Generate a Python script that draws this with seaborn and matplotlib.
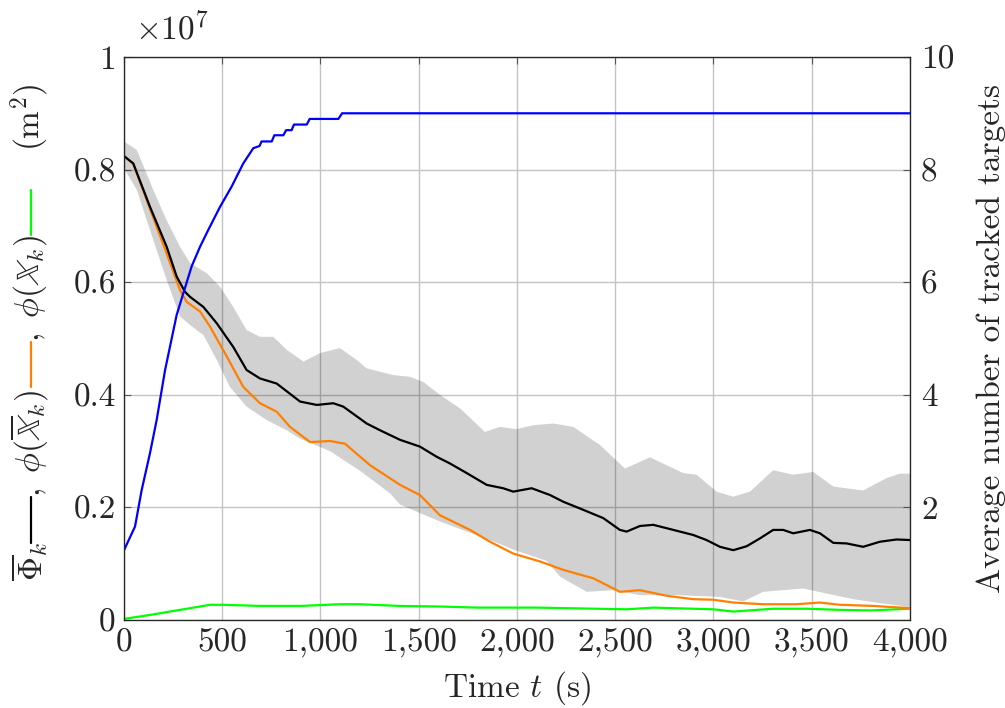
import numpy as np
import matplotlib
matplotlib.use("Agg")
import matplotlib.pyplot as plt
import seaborn as sns
from matplotlib.lines import Line2D

# values of the area curves are in units of 1e7 m^2
t_mean = [0, 47, 132, 217, 268, 310, 336, 404, 472, 556, 624, 692, 777, 896, 981, 1065, 1116, 1235, 1303, 1405,
          1506, 1591, 1659, 1744, 1846, 1930, 1981, 2075, 2168, 2236, 2321, 2439, 2524, 2558, 2626, 2694, 2796, 2897,
          2965, 3033, 3101, 3169, 3237, 3304, 3355, 3406, 3491, 3542, 3610, 3678, 3762, 3847, 3932, 4000]
v_mean = [0.824, 0.811, 0.734, 0.663, 0.61, 0.583, 0.574, 0.556, 0.527, 0.485, 0.444, 0.429, 0.42, 0.388, 0.382,
          0.385, 0.379, 0.349, 0.337, 0.32, 0.308, 0.29, 0.278, 0.261, 0.24, 0.234, 0.228, 0.234, 0.222, 0.21, 0.198,
          0.181, 0.16, 0.157, 0.167, 0.169, 0.16, 0.151, 0.142, 0.13, 0.124, 0.131, 0.145, 0.16, 0.16, 0.154, 0.16,
          0.154, 0.137, 0.136, 0.13, 0.139, 0.143, 0.142]

t_up = [0, 65, 149, 217, 285, 336, 421, 489, 556, 624, 692, 760, 828, 913, 997, 1099, 1184, 1235, 1371, 1455,
        1523, 1608, 1710, 1837, 1913, 1998, 2083, 2185, 2287, 2422, 2550, 2677, 2846, 2914, 3016, 3101, 3186, 3304,
        3406, 3508, 3610, 3762, 3881, 3949, 4000]
v_up = [0.85, 0.835, 0.764, 0.71, 0.663, 0.634, 0.616, 0.592, 0.556, 0.515, 0.503, 0.503, 0.48, 0.459, 0.474, 0.483,
        0.462, 0.447, 0.435, 0.432, 0.423, 0.40, 0.376, 0.334, 0.343, 0.339, 0.346, 0.349, 0.343, 0.311, 0.269, 0.289,
        0.261, 0.258, 0.228, 0.219, 0.228, 0.266, 0.258, 0.263, 0.237, 0.23, 0.252, 0.26, 0.26]

t_lo = [0, 65, 149, 217, 285, 336, 404, 472, 539, 624, 726, 828, 896, 1048, 1201, 1354, 1405, 1506, 1608, 1761,
        1913, 1981, 2151, 2219, 2355, 2490, 2626, 2829, 3033, 3152, 3253, 3457, 3576, 3712, 3847, 4000]
v_lo = [0.802, 0.764, 0.675, 0.604, 0.539, 0.524, 0.506, 0.462, 0.414, 0.379, 0.355, 0.337, 0.322, 0.30, 0.265,
        0.225, 0.205, 0.19, 0.175, 0.155, 0.135, 0.125, 0.105, 0.077, 0.05, 0.053, 0.044, 0.044, 0.041, 0.033, 0.05,
        0.056, 0.047, 0.037, 0.03, 0.023]

t_best = [0, 47, 217, 285, 319, 387, 438, 523, 607, 692, 777, 845, 947, 1048, 1125, 1252, 1405, 1506, 1608, 1761,
          1863, 1981, 2117, 2236, 2389, 2524, 2626, 2762, 2897, 2999, 3101, 3253, 3423, 3542, 3644, 3813, 4000]
v_best = [0.824, 0.81, 0.651, 0.586, 0.565, 0.548, 0.521, 0.468, 0.414, 0.385, 0.37, 0.343, 0.316, 0.318, 0.313,
          0.275, 0.24, 0.222, 0.186, 0.16, 0.139, 0.118, 0.104, 0.089, 0.074, 0.05, 0.053, 0.043, 0.037, 0.036, 0.031,
          0.028, 0.028, 0.031, 0.027, 0.025, 0.021]

t_now = [0, 132, 268, 438, 505, 692, 900, 1100, 1200, 1400, 1600, 1800, 2100, 2558, 2694, 2999, 3101, 3304, 3474,
         3644, 3800, 4000]
v_now = [0.002, 0.009, 0.017, 0.027, 0.027, 0.025, 0.025, 0.028, 0.028, 0.025, 0.024, 0.022, 0.022, 0.019, 0.022,
         0.019, 0.015, 0.02, 0.02, 0.018, 0.017, 0.02]

t_targets = [0, 56, 90, 132, 166, 209, 268, 344, 387, 429, 489, 548, 607, 658, 690, 700, 752, 765, 811, 825, 853,
             865, 930, 945, 1091, 1110, 4000]
v_targets = [1.24, 1.66, 2.31, 2.96, 3.55, 4.44, 5.42, 6.28, 6.63, 6.93, 7.34, 7.70, 8.11, 8.38, 8.42, 8.50, 8.50,
             8.61, 8.61, 8.70, 8.70, 8.80, 8.80, 8.90, 8.90, 9.0, 9.0]

x_ticks = [0, 500, 1000, 1500, 2000, 2500, 3000, 3500, 4000]
x_labels = ["0", "500", "1,000", "1,500", "2,000", "2,500", "3,000", "3,500", "4,000"]
y_ticks = [0, 0.2, 0.4, 0.6, 0.8, 1.0]
y_labels = ["0", "0.2", "0.4", "0.6", "0.8", "1"]
y2_ticks = [2, 4, 6, 8, 10]

sns.set_style("white")
plt.rcParams["font.family"] = ["cmr10"]
plt.rcParams["mathtext.fontset"] = "cm"
plt.rcParams["axes.formatter.use_mathtext"] = True
fs = 24

fig = plt.figure(figsize=(10.05, 7.08), dpi=100)
ax = fig.add_axes([0.1234, 0.1243, 0.782, 0.7952])

ax.grid(True, color="#c4c4c4", lw=1.0, zorder=0)
ax.set_axisbelow(True)
ax.fill(np.r_[t_up, t_lo[::-1]], np.r_[v_up, v_lo[::-1]], color="black", alpha=0.18, lw=0, zorder=1)
sns.lineplot(x=t_now, y=v_now, ax=ax, color="#00ff00", lw=1.6, estimator=None, zorder=2)
sns.lineplot(x=t_best, y=v_best, ax=ax, color="#ff8000", lw=1.6, estimator=None, zorder=3)
sns.lineplot(x=t_mean, y=v_mean, ax=ax, color="black", lw=1.6, estimator=None, zorder=4)

ax.set_xlim(0, 4000)
ax.set_ylim(0, 1)
ax.set_xticks(x_ticks)
ax.set_xticklabels(x_labels, fontsize=fs)
ax.set_yticks(y_ticks)
ax.set_yticklabels(y_labels, fontsize=fs)
ax.tick_params(direction="in", length=5, width=0.8, top=True, color="#555555", pad=6)
ax.set_xlabel("Time $t$ (s)", fontsize=fs, labelpad=8)
ax.set_ylabel("")
for s in ax.spines.values():
    s.set_linewidth(0.9)

ax2 = ax.twinx()
sns.lineplot(x=t_targets, y=v_targets, ax=ax2, color="#0000ff", lw=1.6, estimator=None)
ax2.set_ylim(0, 10)
ax2.set_yticks(y2_ticks)
ax2.set_yticklabels([str(v) for v in y2_ticks], fontsize=fs)
ax2.tick_params(direction="in", length=5, width=0.8, color="#555555", pad=8)
ax2.set_ylabel("Average number of tracked targets", fontsize=fs, labelpad=16)

fig.text(135 / 1005, 1 - 28 / 708, r"$\times10^{7}$", fontsize=fs, va="center", ha="left")

# left label pieced together with coloured line keys (y = lower end of each piece, px from top)
W, H = 1005, 708
lx = 30
pieces = [(r"$\overline{\Phi}_k$", 581), (r"$,\ \phi(\overline{\mathbb{X}}_k)$", 497),
          (r"$,\ \phi(\mathbb{X}_k)$", 342), (r"$(\mathrm{m}^2)$", 151)]
for txt, yb in pieces:
    fig.text(lx / W, 1 - yb / H, txt, fontsize=fs, rotation=90, va="bottom", ha="center")
keys = [("black", 497, 543), ("#ff8000", 342, 387), ("#00ff00", 190, 235)]
for c, y0, y1 in keys:
    fig.add_artist(Line2D([31 / W, 31 / W], [1 - y0 / H, 1 - y1 / H], color=c, lw=1.6))

fig.savefig("out.png", dpi=100)
